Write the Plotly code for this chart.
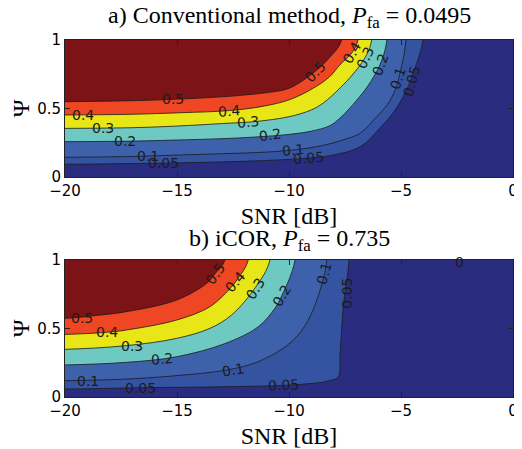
import plotly.graph_objects as go
from plotly.subplots import make_subplots

# contour levels and the fill colour of the band above each level (jet-like)
levels = [0.05, 0.1, 0.2, 0.3, 0.4, 0.5]
level_colors = ["#3454a2", "#3d61ab", "#6dc9c1", "#e8e617", "#ef4623", "#7b1317"]
base_color = "#2a2c7f"

# isolines: SNR [dB] and Psi along each level
# a) conventional method
a_snr = {
    0.05: [-20, -17, -15, -13, -11, -9.5, -8.2, -6.83, -5.94, -5.3, -4.75, -4.45, -4.2, -4.02],
    0.1: [-20, -17, -15, -13, -11, -9.66, -8.5, -7.6, -6.83, -6.09, -5.6, -5.25, -5.0, -4.78],
    0.2: [-20, -17, -15, -13, -11.5, -10, -9, -8.17, -7.72, -7.3, -6.98, -6.5, -5.94, -5.63],
    0.3: [-20, -17, -15, -13, -11.5, -10, -9, -8.47, -7.72, -7.2, -6.61, -6.31],
    0.4: [-20, -17, -14.87, -12.66, -11.2, -9.96, -8.9, -8.2, -7.72, -7.2, -6.92],
    0.5: [-20, -17, -15.17, -13, -11.89, -10.8, -9.96, -8.84, -8.2, -7.65],
}
a_psi = {
    0.05: [0.093, 0.098, 0.103, 0.110, 0.121, 0.134, 0.155, 0.22, 0.357, 0.48, 0.635, 0.76, 0.88, 1.0],
    0.1: [0.144, 0.150, 0.160, 0.170, 0.182, 0.20, 0.23, 0.27, 0.319, 0.44, 0.53, 0.64, 0.79, 1.0],
    0.2: [0.258, 0.262, 0.27, 0.28, 0.292, 0.311, 0.335, 0.375, 0.43, 0.50, 0.56, 0.66, 0.82, 1.0],
    0.3: [0.355, 0.36, 0.372, 0.39, 0.405, 0.44, 0.49, 0.54, 0.65, 0.74, 0.87, 1.0],
    0.4: [0.453, 0.458, 0.469, 0.485, 0.515, 0.565, 0.65, 0.73, 0.82, 0.905, 1.0],
    0.5: [0.55, 0.557, 0.567, 0.585, 0.60, 0.62, 0.65, 0.77, 0.87, 1.0],
}

# b) iCOR
b_snr = {
    0.05: [-20, -16.5, -12.86, -9.88, -8.24, -7.8, -7.72, -7.57, -7.32],
    0.1: [-20, -17.25, -15.01, -12.78, -11.37, -9.88, -9.14, -8.54, -8.32],
    0.2: [-20, -17.25, -15.01, -12.86, -11.37, -10.63, -10.33, -9.73],
    0.3: [-20, -17.25, -15.01, -13.53, -12.56, -11.5, -10.85],
    0.4: [-20, -18.14, -17.25, -15.01, -13.53, -12.56, -12.3, -11.82],
    0.5: [-20, -18.6, -17.25, -15.01, -13.67, -13.3, -12.86],
}
b_psi = {
    0.05: [0.058, 0.068, 0.075, 0.088, 0.117, 0.148, 0.307, 0.672, 1.0],
    0.1: [0.119, 0.131, 0.156, 0.197, 0.258, 0.404, 0.562, 0.818, 1.0],
    0.2: [0.234, 0.253, 0.294, 0.39, 0.513, 0.647, 0.737, 1.0],
    0.3: [0.348, 0.375, 0.428, 0.501, 0.599, 0.80, 1.0],
    0.4: [0.457, 0.472, 0.489, 0.562, 0.659, 0.805, 0.86, 1.0],
    0.5: [0.574, 0.595, 0.623, 0.708, 0.83, 0.90, 1.0],
}

# inline contour labels: text, SNR, Psi, angle
a_labels = [
    ("0.5", -15.17, 0.567, 0), ("0.5", -8.84, 0.77, -45),
    ("0.4", -19.18, 0.453, 0), ("0.4", -12.66, 0.485, -5), ("0.4", -7.2, 0.905, -60),
    ("0.3", -18.29, 0.357, 0), ("0.3", -11.82, 0.40, -5), ("0.3", -6.61, 0.87, -65),
    ("0.2", -17.32, 0.26, 0), ("0.2", -10.85, 0.305, -8), ("0.2", -5.94, 0.82, -70),
    ("0.1", -16.28, 0.155, 0), ("0.1", -9.81, 0.20, -5), ("0.1", -5.12, 0.72, -72),
    ("0.05", -15.61, 0.10, 0), ("0.05", -9.14, 0.14, -5), ("0.05", -4.52, 0.70, -75),
]
b_labels = [
    ("0.5", -19.25, 0.574, 0), ("0.5", -13.3, 0.90, -55),
    ("0.4", -18.14, 0.472, 0), ("0.4", -12.41, 0.84, -50),
    ("0.3", -17.02, 0.375, 0), ("0.3", -11.52, 0.79, -57),
    ("0.2", -15.68, 0.28, -5), ("0.2", -10.33, 0.737, -60),
    ("0.1", -18.96, 0.12, 0), ("0.1", -12.49, 0.20, -10), ("0.1", -8.45, 0.90, -75),
    ("0.05", -16.65, 0.065, 0), ("0.05", -10.25, 0.09, -3), ("0.05", -7.42, 0.76, -90),
    ("0", -2.4, 0.985, 0),
]

titles = ["a) Conventional method, <i>P</i><sub>fa</sub> = 0.0495",
          "b) iCOR, <i>P</i><sub>fa</sub> = 0.735"]

X_RANGE = [-20, 0]
Y_RANGE = [0, 1]
serif = "Liberation Serif"
sans = "DejaVu Sans"

fig = make_subplots(rows=2, cols=1, vertical_spacing=0.2324, subplot_titles=titles)

panels = [(a_snr, a_psi, a_labels), (b_snr, b_psi, b_labels)]
for row, (snr, psi, labels) in enumerate(panels, start=1):
    for lev, col in zip(levels, level_colors):
        xs = snr[lev]
        ys = psi[lev]
        # close the region above/left of the isoline outside the visible axes
        px_ = [X_RANGE[0] - 2] + xs + [xs[-1], X_RANGE[0] - 2]
        py_ = [ys[0]] + ys + [Y_RANGE[1] + 0.5, Y_RANGE[1] + 0.5]
        fig.add_trace(go.Scatter(x=px_, y=py_, mode="lines", fill="toself",
                                 fillcolor=col, line=dict(color="#1a1a1a", width=0.8, shape="spline"),
                                 hoverinfo="skip", showlegend=False), row=row, col=1)
    xref = "x" if row == 1 else "x2"
    yref = "y" if row == 1 else "y2"
    for txt, x, y, ang in labels:
        fig.add_annotation(x=x, y=y, xref=xref, yref=yref, text=txt, showarrow=False,
                           textangle=ang, font=dict(family=sans, size=14, color="#1c1c1c"))

for ann in fig.layout.annotations[:2]:
    ann.font = dict(family=serif, size=24, color="black")
    ann.yanchor = "middle"
fig.layout.annotations[0].y = 1.064
fig.layout.annotations[1].y = 0.44

axis_style = dict(showline=True, linecolor="#222", linewidth=1, mirror="ticks", automargin=False,
                  ticks="inside", ticklen=5, tickcolor="#222", showgrid=False, zeroline=False,
                  tickfont=dict(family=sans, size=15, color="black"))
for row in (1, 2):
    fig.update_xaxes(range=X_RANGE, tickvals=[-20, -15, -10, -5, 0], row=row, col=1,
                     title=dict(text="SNR [dB]", font=dict(family=serif, size=24, color="black"), standoff=8),
                     **axis_style)
    fig.update_yaxes(range=Y_RANGE, tickvals=[0, 0.5, 1], ticktext=["0", "0.5", "1"], row=row, col=1,
                     title=dict(text="Ψ", font=dict(family=serif, size=24, color="black"), standoff=7),
                     **axis_style)

# the page puts the figure 8 px in from the window corner
fig.update_layout(width=514, height=441, margin=dict(l=57, r=9, t=32, b=52),
                  paper_bgcolor="white", plot_bgcolor=base_color, showlegend=False)

fig.write_html("out.html")
